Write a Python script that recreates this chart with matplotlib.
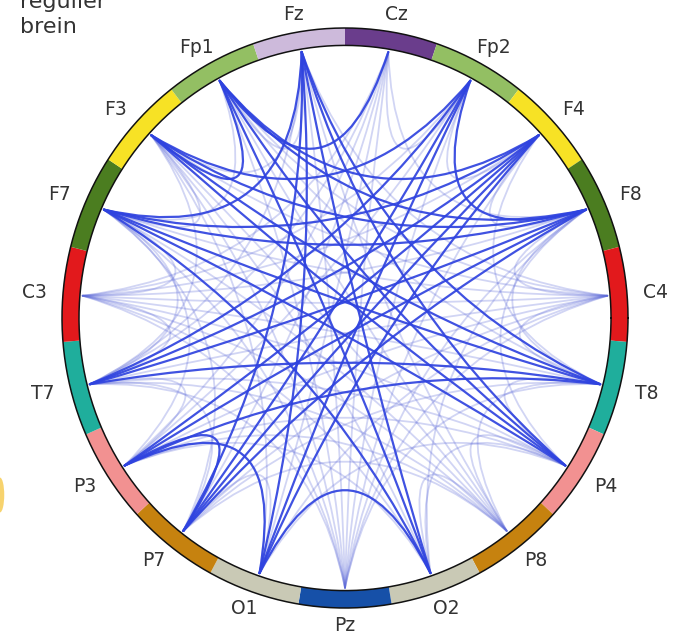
import numpy as np
import matplotlib.pyplot as plt
from matplotlib.patches import Wedge, Ellipse, PathPatch
from matplotlib.path import Path

# channels clockwise, starting right of the top
channels = ["Cz", "Fp2", "F4", "F8", "C4", "T8", "P4", "P8", "O2", "Pz",
            "O1", "P7", "P3", "T7", "C3", "F7", "F3", "Fp1", "Fz"]
ring_colors = ["#6a3d8c", "#93bf63", "#f7e225", "#4b7d20", "#e2191c", "#1fae9c",
               "#f29191", "#c6820f", "#c9c9b5", "#1650a8",
               "#c9c9b5", "#c6820f", "#f29191", "#1fae9c", "#e2191c", "#4b7d20",
               "#f7e225", "#93bf63", "#cdbadb"]

# strong connections (dark)
strong_links = [
    ("Fz", "F7"), ("Fz", "O1"), ("Fz", "O2"), ("Fz", "P4"), ("Fz", "T8"),
    ("Cz", "Fp1"),
    ("Fp1", "F8"), ("Fp1", "O2"), ("Fp1", "P4"), ("Fp1", "F4"), ("Fp1", "F3"),
    ("Fp2", "F3"), ("Fp2", "O1"), ("Fp2", "P7"), ("Fp2", "F8"), ("Fp2", "T7"),
    ("F3", "F8"), ("F3", "T8"), ("F3", "P4"),
    ("F4", "F7"), ("F4", "P3"), ("F4", "T7"), ("F4", "O1"),
    ("F7", "F8"), ("F7", "T8"), ("F7", "O2"), ("F7", "P4"),
    ("F8", "T7"), ("F8", "P3"), ("F8", "P7"),
    ("T7", "T8"),
    ("T8", "P3"),
    ("P3", "O1"), ("P3", "P7"),
    ("P7", "F4"), ("P7", "Fz"),
    ("O1", "O2"),
]

# weak connections (faint)
weak_links = [
    ("Pz", "F3"), ("Pz", "F4"), ("Pz", "Fp1"), ("Pz", "Fp2"), ("Pz", "Fz"),
    ("Pz", "Cz"), ("Pz", "T7"), ("Pz", "T8"), ("Pz", "F7"), ("Pz", "F8"),
    ("Pz", "C3"), ("Pz", "C4"),
    ("C3", "C4"), ("C3", "T8"), ("C3", "P8"), ("C3", "F4"), ("C3", "Fp2"),
    ("C3", "Cz"), ("C3", "F8"), ("C3", "F7"), ("C3", "T7"), ("C3", "O2"), ("C3", "P4"),
    ("C4", "P7"), ("C4", "O1"), ("C4", "F3"), ("C4", "Fp1"), ("C4", "Fz"),
    ("C4", "F8"), ("C4", "T8"), ("C4", "F7"), ("C4", "T7"), ("C4", "P3"),
    ("P8", "Fp1"), ("P8", "Fz"), ("P8", "F3"), ("P8", "F7"), ("P8", "T7"),
    ("P8", "P3"), ("P8", "P4"), ("P8", "O2"), ("P8", "T8"),
    ("Fz", "F3"), ("Fz", "T7"), ("Fz", "Fp1"),
    ("Cz", "F8"), ("Cz", "P7"), ("Cz", "O1"), ("Cz", "T7"), ("Cz", "Fp2"), ("Cz", "P3"),
    ("Fp1", "T8"), ("Fp1", "F7"), ("Fp2", "F4"), ("Fp2", "P3"),
    ("F3", "O2"), ("F3", "F7"), ("F3", "T7"), ("F4", "F8"), ("F4", "T8"),
    ("F7", "T7"), ("F7", "P3"), ("F8", "P4"), ("F8", "T8"),
    ("T7", "P4"), ("T7", "P3"), ("T8", "P4"), ("T8", "P7"),
    ("P3", "P4"), ("P7", "P8"), ("P7", "O1"), ("O1", "P4"), ("O2", "P3"),
    ("O2", "P4"), ("O1", "F3"), ("O2", "F8"), ("P7", "F7"), ("P7", "T7"),
]

step = 360.0 / len(channels)
angles = np.radians(90 - step / 2 - step * np.arange(len(channels)))
r_out, r_in, r_end = 1.0, 0.94, 0.93

fig = plt.figure(figsize=(6.82, 6.34), dpi=100)
ax = fig.add_axes([0, 0, 1, 1])
ax.set_xlim(-345 / 283, (682 - 345) / 283)
ax.set_ylim(-(634 - 318) / 290, 318 / 290)
ax.axis("off")

pos = {c: np.array([r_end * np.cos(a), r_end * np.sin(a)]) for c, a in zip(channels, angles)}


def chord(a, b, color, alpha, lw, z):
    p0, p2 = pos[a], pos[b]
    ctrl = 0.35 * (p0 + p2) / 2
    path = Path([p0, ctrl, p2], [Path.MOVETO, Path.CURVE3, Path.CURVE3])
    ax.add_patch(PathPatch(path, facecolor="none", edgecolor=color, alpha=alpha,
                           lw=lw, zorder=z, capstyle="round"))


for a, b in weak_links:
    chord(a, b, "#5b68d8", 0.28, 1.3, 1)
for a, b in strong_links:
    chord(a, b, "#2f43df", 0.92, 1.6, 2)

# colored ring
for ang, col in zip(np.degrees(angles), ring_colors):
    ax.add_patch(Wedge((0, 0), r_out, ang - step / 2, ang + step / 2,
                       width=r_out - r_in, facecolor=col, edgecolor="none", zorder=3))
t = np.linspace(0, 2 * np.pi, 400)
for r in (r_out, r_in):
    ax.plot(r * np.cos(t), r * np.sin(t), color="#111111", lw=1.1, zorder=4)

for c, a in zip(channels, angles):
    ax.text(1.1 * np.cos(a), 1.06 * np.sin(a), c, ha="center", va="center",
            fontsize=13.5, color="#333333", zorder=5)

# title, first line cut off by the top edge
ax.text(20 / 283 - 345 / 283, (318 - 33) / 290, "brein", ha="left",
        va="baseline", fontsize=16, color="#333333")
ax.text(20 / 283 - 345 / 283, (318 - 8) / 290, "regulier", ha="left",
        va="baseline", fontsize=16, color="#333333")

# partial yellow shape at left edge
ax.add_patch(Ellipse((-345 / 283, -(495 - 318) / 290), 0.03, 0.12,
                     facecolor="#f6c94a", edgecolor="none", alpha=0.8))

fig.savefig("out.png", dpi=100)
